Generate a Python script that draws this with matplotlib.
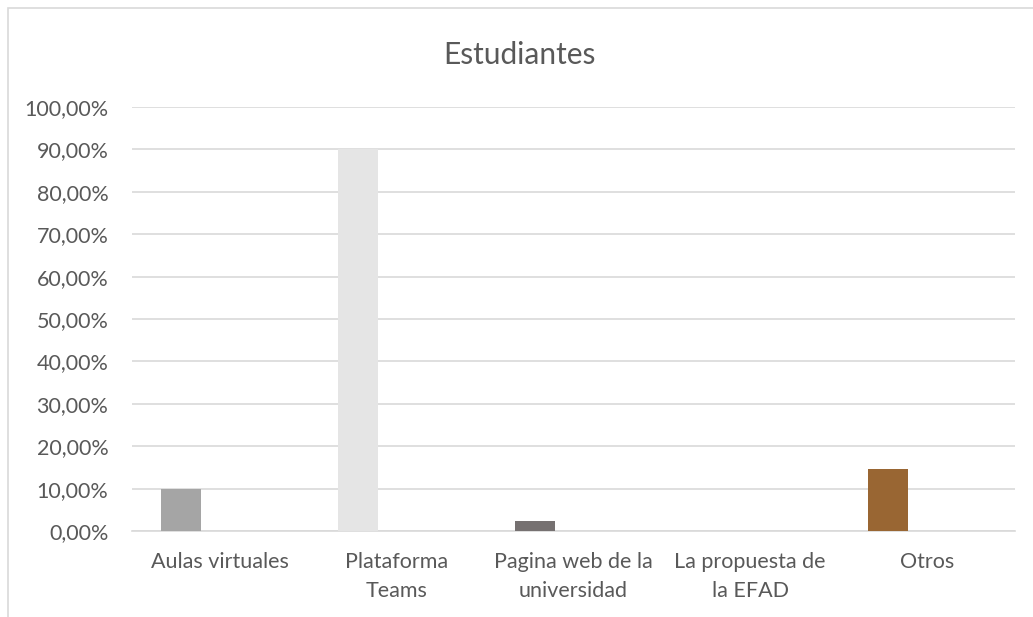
import matplotlib.pyplot as plt
from matplotlib.patches import Rectangle
from matplotlib.ticker import FuncFormatter
import numpy as np

# data
categories = ["Aulas virtuales", "Plataforma\nTeams", "Pagina web de la\nuniversidad",
              "La propuesta de\nla EFAD", "Otros"]
values = [9.8, 90.0, 2.4, 0.0, 14.6]
colors = ["#A5A5A5", "#E5E5E5", "#767171", "#A5A5A5", "#996633"]

plt.rcParams['font.family'] = ['Lato', 'DejaVu Sans']

fig = plt.figure(figsize=(10.33, 6.17), dpi=100)
# chart border (right and bottom cut off in the reference)
fig.patches.append(Rectangle((8 / 1033, -0.1), 1.2, 1.1 - 8 / 617, transform=fig.transFigure,
                             fill=False, edgecolor="#D9D9D9", linewidth=1.2))

ax = fig.add_axes([132 / 1033, 1 - 531 / 617, (1015 - 132) / 1033, (531 - 107) / 617])

x = np.arange(len(categories))
ax.bar(x - 0.22, values, width=0.226, color=colors, zorder=3)

ax.set_ylim(0, 100)
ax.set_xlim(-0.5, len(categories) - 0.5)
ax.set_yticks(np.arange(0, 101, 10))
ax.yaxis.set_major_formatter(FuncFormatter(lambda v, p: f"{v:.2f}%".replace(".", ",")))
ax.set_xticks(x)
ax.set_xticklabels(categories, linespacing=1.6)
ax.grid(axis="y", color="#D9D9D9", linewidth=1.2, zorder=0)
for s in ["top", "right", "left"]:
    ax.spines[s].set_visible(False)
ax.spines["bottom"].set_color("#D9D9D9")
ax.spines["bottom"].set_linewidth(1.2)
ax.tick_params(length=0, labelsize=15.5, labelcolor="#595959")
ax.tick_params(axis="y", pad=17)
ax.tick_params(axis="x", pad=15)

fig.text(0.503, 1 - 55 / 617, "Estudiantes", ha="center", va="center",
         fontsize=21.5, color="#595959")

fig.savefig("out.png", dpi=100)
